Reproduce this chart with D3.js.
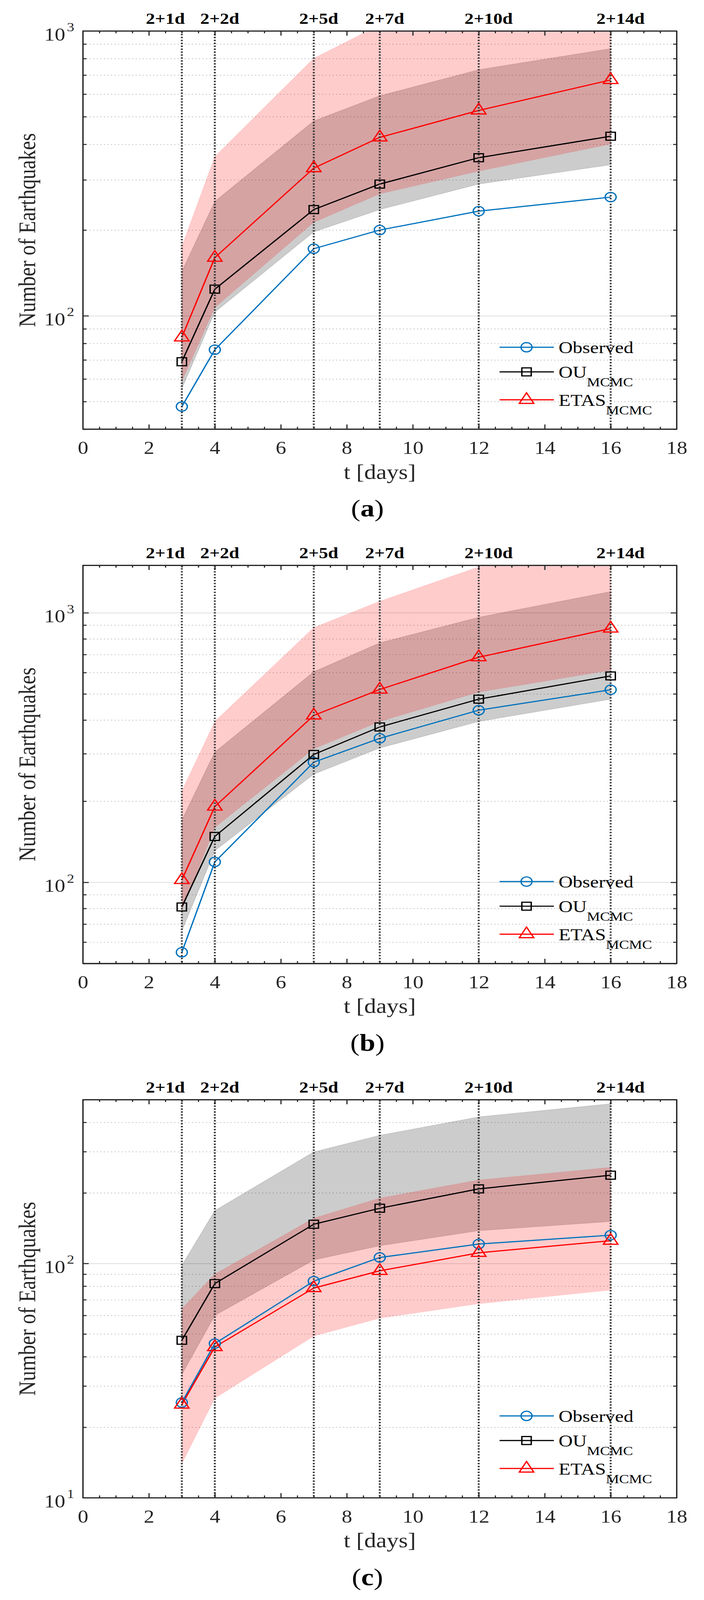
<!DOCTYPE html>
<html>
<head>
<meta charset="utf-8">
<style>
html, body { margin:0; background:#fff; overflow:hidden; }
svg { display:block; font-family:"Liberation Serif","Times New Roman",serif; }
.axis path, .axis line { stroke:#262626; stroke-width:3; fill:none; }
.axis text { font-size:54px; fill:#262626; font-family:"Liberation Serif","Times New Roman",serif; }
.grid path { display:none; }
.grid line { stroke:#b0b0b0; stroke-width:2; stroke-dasharray:2.5,6.5; }
.gridmajor line { stroke:#dadada; stroke-width:2; stroke-dasharray:none; }
.eventline { stroke:#333; stroke-width:5; stroke-dasharray:4,4.8; }
.toplabel { font-size:47px; font-weight:bold; fill:#000; text-anchor:middle; }
.legend text { font-size:50px; fill:#000; }
</style>
</head>
<body>
<svg id="chart"></svg>
<script src="https://cdnjs.cloudflare.com/ajax/libs/d3/7.8.5/d3.min.js"></script>
<script>
// forecast days (t = 2 + horizon)
var days = [3, 4, 7, 9, 12, 16];
var eventLabels = ["2+1d", "2+2d", "2+5d", "2+7d", "2+10d", "2+14d"];
var eventLabelX = [2.5, 4.15, 7.15, 9.15, 12.3, 16.3];
var xDomain = [0, 18];
var xMajor = [0, 2, 4, 6, 8, 10, 12, 14, 16, 18];
var seriesNames = ["Observed", "OU", "ETAS"];

// panel (a)
var yDomainA = [40, 1000];
var obsA = [48, 76, 172, 200, 233, 261];
var ouA = [69, 124, 236, 290, 359, 427];
var etasA = [84, 160, 330, 423, 526, 673];
var ouLoA = [55.5, 103, 197, 236, 290, 339];
var ouHiA = [143, 252, 483, 592, 731, 867];
var etasLoA = [59, 107, 213, 268, 322, 401];
var etasHiA = [175, 362, 802, 1050, 1350, 1700];

// panel (b)
var yDomainB = [50, 1500];
var obsB = [55, 119, 279, 342, 435, 518];
var ouB = [81, 148, 298, 377, 478, 583];
var etasB = [102, 191, 416, 519, 684, 874];
var ouLoB = [66, 131, 252, 315, 395, 478];
var ouHiB = [170, 304, 604, 773, 962, 1198];
var etasLoB = [79, 160, 313, 395, 508, 612];
var etasHiB = [218, 395, 881, 1103, 1480, 1900];

// panel (c)
var yDomainC = [10, 500];
var obsC = [25.5, 45.5, 84, 106, 121, 132];
var ouC = [47, 82, 147, 172, 208, 238];
var etasC = [25, 44, 78.5, 93, 111, 125];
var ouLoC = [33.6, 60, 103.5, 119, 138, 151];
var ouHiC = [98, 168, 299, 352, 422, 480];
var etasLoC = [14, 26.6, 49, 58.4, 67.3, 77];
var etasHiC = [64, 90, 156, 190, 227, 257];

var panels = [
  {letter:"a", yDomain:yDomainA, obs:obsA, ou:ouA, etas:etasA, ouLo:ouLoA, ouHi:ouHiA, etasLo:etasLoA, etasHi:etasHiA},
  {letter:"b", yDomain:yDomainB, obs:obsB, ou:ouB, etas:etasB, ouLo:ouLoB, ouHi:ouHiB, etasLo:etasLoB, etasHi:etasHiB},
  {letter:"c", yDomain:yDomainC, obs:obsC, ou:ouC, etas:etasC, ouLo:ouLoC, ouHi:ouHiC, etasLo:etasLoC, etasHi:etasHiC}
];

var W = 1801, H = 4806;
var left = 212, right = 1731, plotH = 1196, pitch = 1605, firstTop = 93;
var colObs = "#0072BD", colOU = "#000000", colETAS = "#FF0000";

// the window can be shorter than the figure: stretch the drawing to fit it
var svg = d3.select("#chart")
  .attr("width", window.innerWidth || W)
  .attr("height", window.innerHeight || H)
  .attr("viewBox", "0 0 " + W + " " + H)
  .attr("preserveAspectRatio", "none");
svg.append("rect").attr("width", W).attr("height", H).attr("fill", "#fff");

var x = d3.scaleLinear().domain(xDomain).range([left, right]);
var xMinor = d3.range(0, 18.01, 0.5).filter(function(v){ return v % 2 !== 0; });

var sym = {
  circle: d3.symbol().type(d3.symbolCircle).size(616)(),
  square: d3.symbol().type(d3.symbolSquare).size(576)(),
  triangle: d3.symbol().type(d3.symbolTriangle).size(590)()
};

function drawPanel(p, i) {
  var top = firstTop + i * pitch, bottom = top + plotH;
  var y = d3.scaleLog().domain(p.yDomain).range([bottom, top]);
  var g = svg.append("g");

  g.append("clipPath").attr("id", "clip" + i)
    .append("rect").attr("x", left).attr("y", top)
    .attr("width", right - left).attr("height", plotH);

  // log ticks
  var lo = p.yDomain[0], hi = p.yDomain[1];
  var decades = [], minors = [];
  for (var e = Math.floor(Math.log10(lo)); e <= Math.ceil(Math.log10(hi)); e++) {
    for (var k = 1; k <= 9; k++) {
      var v = k * Math.pow(10, e);
      if (v < lo * 0.999 || v > hi * 1.001) continue;
      if (k === 1) decades.push(v); else minors.push(v);
    }
  }

  // grid
  g.append("g").attr("class", "grid").attr("transform", "translate(" + left + ",0)")
    .call(d3.axisLeft(y).tickValues(minors).tickSize(-(right - left)).tickFormat(""));
  g.append("g").attr("class", "grid gridmajor").attr("transform", "translate(" + left + ",0)")
    .call(d3.axisLeft(y).tickValues(decades).tickSize(-(right - left)).tickFormat(""));

  // bands
  var plot = g.append("g").attr("clip-path", "url(#clip" + i + ")");
  function bandData(loArr, hiArr) {
    return days.map(function(d, j){ return {x:d, lo:loArr[j], hi:hiArr[j]}; });
  }
  var area = d3.area().x(function(d){ return x(d.x); })
    .y0(function(d){ return y(d.lo); }).y1(function(d){ return y(d.hi); });
  plot.append("path").datum(bandData(p.ouLo, p.ouHi)).attr("d", area)
    .attr("fill", "#000").attr("fill-opacity", 0.2)
    .attr("stroke", "#000").attr("stroke-opacity", 0.12).attr("stroke-width", 2);
  plot.append("path").datum(bandData(p.etasLo, p.etasHi)).attr("d", area)
    .attr("fill", "#FF0000").attr("fill-opacity", 0.2)
    .attr("stroke", "#FF0000").attr("stroke-opacity", 0.08).attr("stroke-width", 2);

  // forecast-time dotted lines
  g.selectAll(".eventline").data(days).enter().append("line")
    .attr("class", "eventline")
    .attr("x1", function(d){ return x(d); }).attr("x2", function(d){ return x(d); })
    .attr("y1", top).attr("y2", bottom);

  // series
  var line = d3.line().x(function(d){ return x(d.x); }).y(function(d){ return y(d.v); });
  var series = [
    {vals:p.obs, col:colObs, shape:"circle"},
    {vals:p.ou, col:colOU, shape:"square"},
    {vals:p.etas, col:colETAS, shape:"triangle"}
  ];
  series.forEach(function(s) {
    var pts = days.map(function(d, j){ return {x:d, v:s.vals[j]}; });
    plot.append("path").datum(pts).attr("d", line)
      .attr("fill", "none").attr("stroke", s.col).attr("stroke-width", 3.5);
    g.selectAll(null).data(pts).enter().append("path")
      .attr("d", sym[s.shape])
      .attr("transform", function(d){ return "translate(" + x(d.x) + "," + y(d.v) + ")"; })
      .attr("fill", "none").attr("stroke", s.col).attr("stroke-width", 3.5);
  });

  // axes box
  g.append("g").attr("class", "axis").attr("transform", "translate(0," + bottom + ")")
    .call(d3.axisBottom(x).tickValues(xMajor).tickSizeInner(-14).tickSizeOuter(0).tickPadding(36).tickFormat(d3.format("d")));
  g.append("g").attr("class", "axis").attr("transform", "translate(0," + bottom + ")")
    .call(d3.axisBottom(x).tickValues(xMinor).tickSizeInner(-7).tickSizeOuter(0).tickFormat(""));
  g.append("g").attr("class", "axis").attr("transform", "translate(0," + top + ")")
    .call(d3.axisTop(x).tickValues(xMajor).tickSizeInner(-14).tickSizeOuter(0).tickFormat(""));
  g.append("g").attr("class", "axis").attr("transform", "translate(0," + top + ")")
    .call(d3.axisTop(x).tickValues(xMinor).tickSizeInner(-7).tickSizeOuter(0).tickFormat(""));
  g.append("g").attr("class", "axis").attr("transform", "translate(" + left + ",0)")
    .call(d3.axisLeft(y).tickValues(decades).tickSizeInner(-15).tickSizeOuter(0).tickFormat(""));
  g.append("g").attr("class", "axis").attr("transform", "translate(" + left + ",0)")
    .call(d3.axisLeft(y).tickValues(minors).tickSizeInner(-9).tickSizeOuter(0).tickFormat(""));
  g.append("g").attr("class", "axis").attr("transform", "translate(" + right + ",0)")
    .call(d3.axisRight(y).tickValues(decades).tickSizeInner(-15).tickSizeOuter(0).tickFormat(""));
  g.append("g").attr("class", "axis").attr("transform", "translate(" + right + ",0)")
    .call(d3.axisRight(y).tickValues(minors).tickSizeInner(-9).tickSizeOuter(0).tickFormat(""));
  g.append("rect").attr("x", left).attr("y", top).attr("width", right - left).attr("height", plotH)
    .attr("fill", "none").attr("stroke", "#262626").attr("stroke-width", 3);

  // y tick labels 10^n
  decades.forEach(function(v) {
    var yy = y(v);
    g.append("text").attr("x", 167).attr("y", yy + 29).attr("text-anchor", "end")
      .attr("font-size", 54).attr("fill", "#262626").text("10");
    g.append("text").attr("x", 171).attr("y", yy + 1).attr("text-anchor", "start")
      .attr("font-size", 38).attr("fill", "#262626").text(Math.round(Math.log10(v)));
  });

  // axis titles
  g.append("text").attr("transform", "translate(90," + (top + plotH / 2) + ") rotate(-90)")
    .attr("text-anchor", "middle").attr("font-size", 61).attr("fill", "#262626")
    .text("Number of Earthquakes");
  g.append("text").attr("x", (left + right) / 2).attr("y", bottom + 149)
    .attr("text-anchor", "middle").attr("font-size", 61).attr("fill", "#262626")
    .text("t [days]");

  // forecast horizon labels
  g.selectAll(".toplabel").data(eventLabels).enter().append("text")
    .attr("class", "toplabel")
    .attr("x", function(d, j){ return x(eventLabelX[j]); })
    .attr("y", top - 21)
    .text(function(d){ return d; });

  // legend
  var lg = g.append("g").attr("class", "legend");
  var rows = [top + 950, top + 1024, top + 1108];
  series.forEach(function(s, j) {
    lg.append("line").attr("x1", 1278).attr("x2", 1417).attr("y1", rows[j]).attr("y2", rows[j])
      .attr("stroke", s.col).attr("stroke-width", 3.5);
    lg.append("path").attr("d", sym[s.shape]).attr("transform", "translate(1347," + rows[j] + ")")
      .attr("fill", "none").attr("stroke", s.col).attr("stroke-width", 3.5);
    var t = lg.append("text").attr("x", 1429).attr("y", rows[j] + 18);
    t.append("tspan").text(seriesNames[j]);
    if (j > 0) {
      t.append("tspan").attr("font-size", 38).attr("dy", 26).text("MCMC");
    }
  });

  // caption
  var cap = svg.append("text").attr("x", 940).attr("y", bottom + 262)
    .attr("text-anchor", "middle").attr("font-size", 72).attr("fill", "#000");
  cap.append("tspan").text("(");
  cap.append("tspan").attr("font-weight", "bold").text(p.letter);
  cap.append("tspan").text(")");
}

panels.forEach(drawPanel);
</script>
</body>
</html>
